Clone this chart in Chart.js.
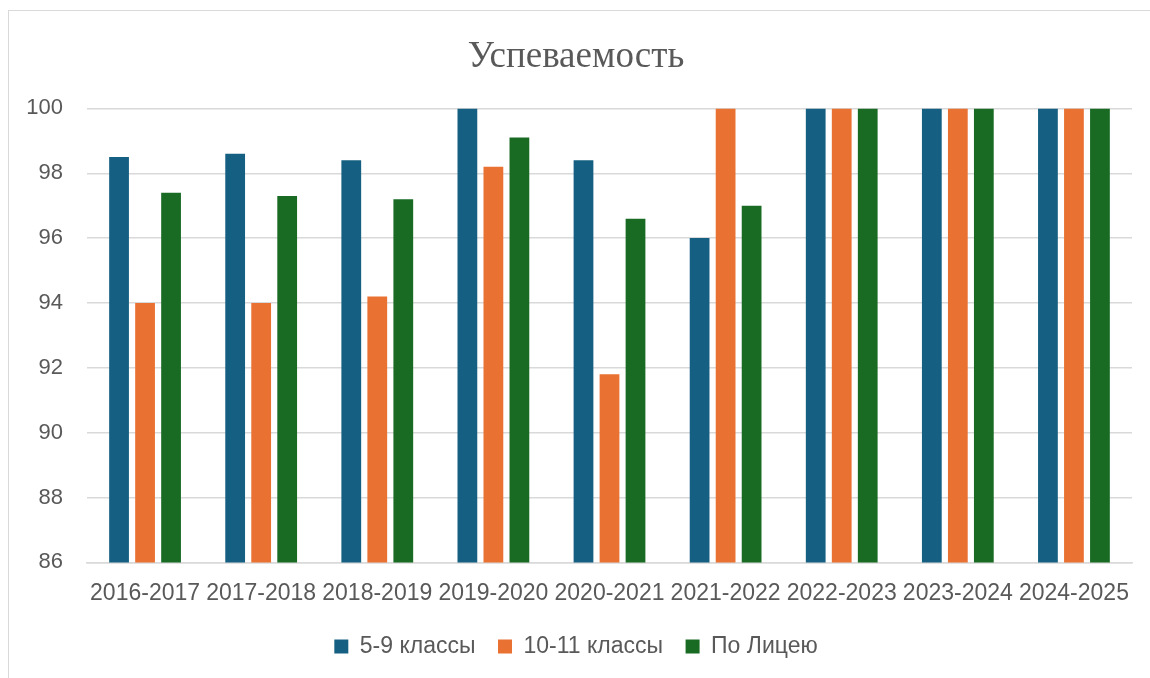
<!DOCTYPE html>
<html lang="ru">
<head>
<meta charset="utf-8">
<title>Успеваемость</title>
<script src="https://cdn.jsdelivr.net/npm/chart.js@4/dist/chart.umd.min.js"></script>
<style>
    html, body { margin: 0; padding: 0; background: #fff; overflow: hidden; }
    #frame {
        position: absolute; left: 8px; top: 10px; width: 1160px; height: 700px;
        border-left: 1px solid #d9d9d9; border-top: 1px solid #d9d9d9;
    }
    #wrap { position: absolute; left: 0; top: 0; width: 1150px; height: 678px; }
</style>
</head>
<body>
<div id="frame"></div>
<div id="wrap"><canvas id="chart"></canvas></div>
<script>
    // Данные диаграммы
    const years = ['2016-2017', '2017-2018', '2018-2019', '2019-2020', '2020-2021',
                   '2021-2022', '2022-2023', '2023-2024', '2024-2025'];
    const klassy5_9 = [98.5, 98.6, 98.4, 100, 98.4, 96, 100, 100, 100];
    const klassy10_11 = [94, 94, 94.2, 98.2, 91.8, 100, 100, 100, 100];
    const poLiceyu = [97.4, 97.3, 97.2, 99.1, 96.6, 97, 100, 100, 100];
    const yTicks = [86, 88, 90, 92, 94, 96, 98, 100];

    const textColor = '#595959';
    const gridColor = '#d9d9d9';
    const sans = '"Liberation Sans", Arial, sans-serif';

    const ctx = document.getElementById('chart').getContext('2d');

    new Chart(ctx, {
        type: 'bar',
        data: {
            labels: years,
            datasets: [
                { label: '5-9 классы', data: klassy5_9, backgroundColor: '#156082' },
                { label: '10-11 классы', data: klassy10_11, backgroundColor: '#E97132' },
                { label: 'По Лицею', data: poLiceyu, backgroundColor: '#196B24' }
            ]
        },
        options: {
            responsive: true,
            maintainAspectRatio: false,
            animation: false,
            datasets: { bar: { categoryPercentage: 0.672, barPercentage: 0.76 } },
            layout: { padding: { left: 20, right: 18, top: 0, bottom: 10 } },
            plugins: {
                title: {
                    display: true,
                    text: 'Успеваемость',
                    color: textColor,
                    font: { family: '"Liberation Serif", "Times New Roman", serif', size: 37, weight: 'normal' },
                    padding: { top: 35, bottom: 29 }
                },
                legend: {
                    position: 'bottom',
                    labels: {
                        color: textColor,
                        font: { family: sans, size: 23 },
                        boxWidth: 14,
                        boxHeight: 14,
                        padding: 11,
                        // padding маленький по вертикали, поэтому промежуток между пунктами добираем пробелом
                        generateLabels: chart => {
                            const items = Chart.defaults.plugins.legend.labels.generateLabels(chart);
                            items.forEach((it, i) => { if (i < items.length - 1) it.text += '\u2002'; });
                            return items;
                        }
                    }
                },
                tooltip: { enabled: false }
            },
            scales: {
                x: {
                    grid: { display: false, drawTicks: false },
                    border: { display: true, color: gridColor, width: 1.5 },
                    ticks: { color: textColor, font: { family: sans, size: 23 }, padding: 17, maxRotation: 0 }
                },
                y: {
                    min: 86,
                    max: 100,
                    afterBuildTicks: axis => { axis.ticks = yTicks.map(v => ({ value: v })); },
                    afterFit: axis => { axis.width = 67; },
                    grid: { color: gridColor, lineWidth: 1.5, drawTicks: false },
                    border: { display: false },
                    ticks: { color: textColor, font: { family: sans, size: 22 }, padding: 24 }
                }
            }
        }
    });
</script>
</body>
</html>
